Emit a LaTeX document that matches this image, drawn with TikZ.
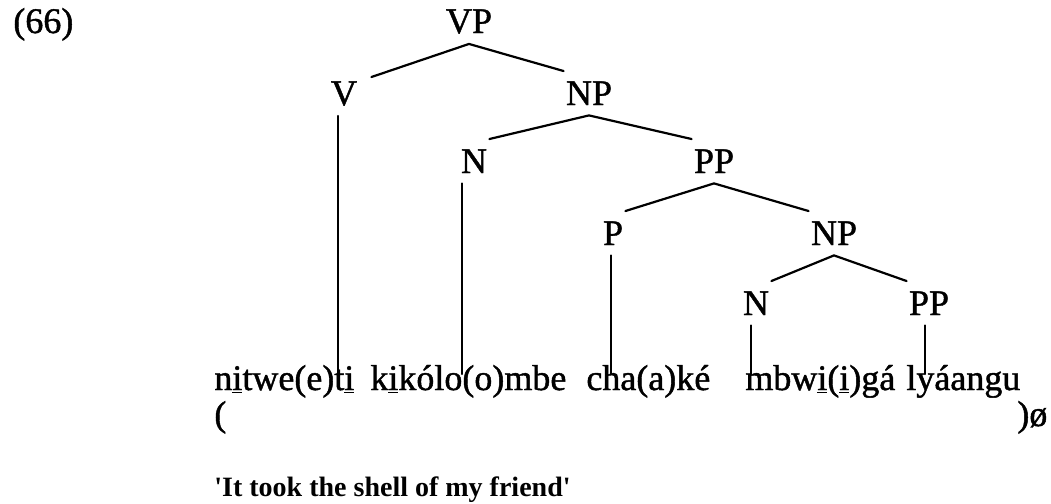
\documentclass[tikz,border=0pt]{standalone}
\usepackage{fontspec}
\setmainfont{Liberation Serif}
\newfontfamily\scanfont{Liberation Serif}[FakeBold=1.2]
\usetikzlibrary{positioning}

\tikzset{
	cat/.style={font=\scanfont\fontsize{18pt}{22pt}\selectfont,inner xsep=1pt,inner ysep=5pt,anchor=base},
	word/.style={font=\scanfont\fontsize{18pt}{22pt}\selectfont,inner sep=0pt,anchor=base west},
	branch/.style={line width=1.1pt,line cap=round}
}

\begin{document}
\begin{tikzpicture}[x=0.5pt,y=-0.5pt]
		
		\useasboundingbox (0,0) rectangle (1051,504);
		
		\node[cat,anchor=base west] (ex) at (11,33) {(66)};
		
		% categories of the tree
		\foreach \x/\y/\nm/\txt in
		{
			469/33/vp/VP,
			344/105/v/V,
			589/105/np/NP,
			474/173/n/N,
			714/173/pp/PP,
			613/245/p/P,
			834/245/npb/NP,
			756/315/nb/N,
			929/315/ppb/PP
		}
		{
			\node[cat] (\nm) at (\x,\y) {\txt};
		}
		
		\draw[branch] ([xshift=6pt,yshift=-3pt]v.north east) -- (vp.south) -- (np.north west);
		\draw[branch] (n.north east) -- (np.south) -- (pp.north west);
		\draw[branch] (p.north east) -- (pp.south) -- (npb.north west);
		\draw[branch] (nb.north east) -- (npb.south) -- (ppb.north west);
		
		% the words
		\node[word] (nitweti) at (214,390) {n\underline{i}twe(e)t\underline{i}};
		\node[word] (kikolombe) at (370,390) {k\underline{i}kólo(o)mbe};
		\node[word] (chake) at (586,390) {cha(a)ké};
		\node[word] (mbwiga) at (745,390) {mbw\underline{i}(\underline{i})gá};
		\node[word] (lyaangu) at (906,390) {lyáangu};
		
		\foreach \x/\nm in {338/v,462/n,611/p,751/nb,925/ppb}
		{
			\coordinate (\nm-end) at (\x,374);
			\draw[branch] (\nm.south -| \nm-end) -- (\nm-end);
		}
		
		\node[word] (lpar) at (214,426) {(};
		\node[word] (rpar) at (1017,426) {)ø};
		
		\node[word,font=\fontsize{14pt}{17pt}\selectfont\bfseries]
		(gloss) at (214,496)
		{\textquotesingle It took the shell of my friend\textquotesingle};
		
	\end{tikzpicture}
\end{document}
